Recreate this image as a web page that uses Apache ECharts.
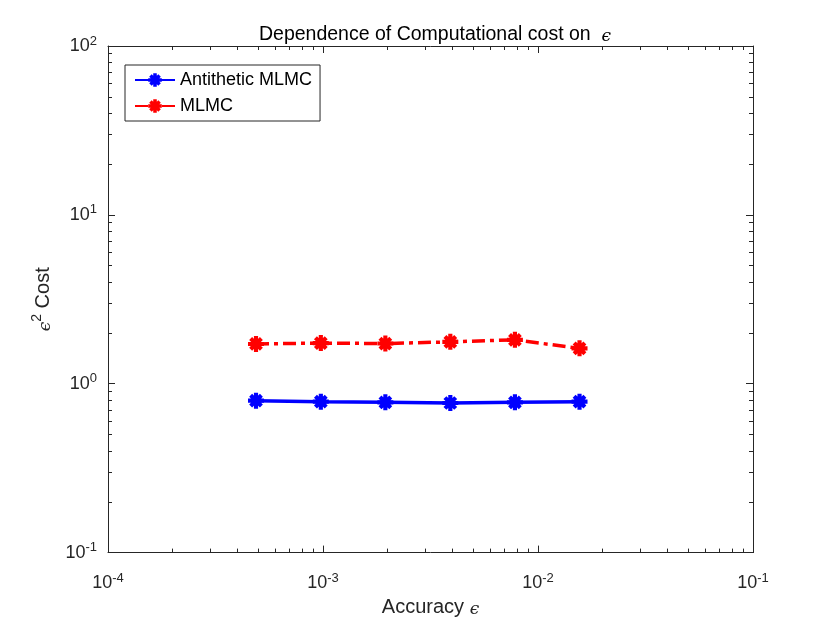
<!DOCTYPE html>
<html>
<head>
<meta charset="utf-8">
<script src="https://cdn.jsdelivr.net/npm/echarts@6/dist/echarts.min.js"></script>
<style>html,body{margin:0;padding:0;background:#fff}#c{width:830px;height:623px}</style>
</head>
<body>
<div id="c"></div>
<script>
// ---- data ----
const accuracy = [0.000488, 0.000977, 0.00195, 0.00391, 0.00781, 0.0156];
const antitheticCost = [0.794, 0.783, 0.776, 0.769, 0.776, 0.783];
const mlmcCost = [1.72, 1.74, 1.73, 1.77, 1.82, 1.62];
const xTicks = [1e-4, 1e-3, 1e-2, 1e-1];
const xTickExp = ['-4', '-3', '-2', '-1'];
const yTicks = [1e-1, 1, 10, 100];
const yTickExp = ['-1', '0', '1', '2'];
const seriesNames = ['Antithetic MLMC', 'MLMC'];

function minorTicks(majors) {
  const out = [];
  for (let i = 0; i < majors.length - 1; i++) {
    for (let k = 2; k <= 9; k++) out.push(+(majors[i] * k).toPrecision(6));
  }
  return out;
}
function expOf(v, ticks, exps) {
  for (let i = 0; i < ticks.length; i++) {
    if (Math.abs(Math.log10(v) - Math.log10(ticks[i])) < 1e-6) return exps[i];
  }
  return '';
}

const ink = '#262626';
const star = 'path://M0 7.4L20 7.4L20 12.6L0 12.6Z M7.4 0L12.6 0L12.6 20L7.4 20Z M5.12 1.44L18.56 14.88L14.88 18.56L1.44 5.12Z M1.44 14.88L14.88 1.44L18.56 5.12L5.12 18.56Z';
const font = 'Liberation Sans';

const labelRich = {
  b: { fontSize: 18, color: ink, fontFamily: font },
  s: { fontSize: 13, color: ink, fontFamily: font, padding: [0, 0, 10, 0] }
};

function xAxisDef(position, major, showLabel) {
  return {
    type: 'log', logBase: 10, min: 1e-4, max: 1e-1, position: position, offset: 0,
    axisLine: { show: major, onZero: false, lineStyle: { color: ink, width: 1 } },
    splitLine: { show: false },
    axisTick: { show: true, inside: true, length: major ? 7 : 4, lineStyle: { color: ink, width: 1 },
      customValues: major ? xTicks : minorTicks(xTicks) },
    axisLabel: { show: showLabel, customValues: xTicks, margin: 19,
      formatter: v => '{b|10}{s|' + expOf(v, xTicks, xTickExp) + '}', rich: labelRich },
    name: showLabel ? 'Accuracy {e|ϵ}' : '', nameLocation: 'middle', nameGap: 42,
    nameTextStyle: { fontSize: 20, color: ink, fontFamily: font,
      rich: { e: { fontSize: 17, color: ink, fontStyle: 'italic', fontFamily: 'DejaVu Serif', padding: [5, 0, 0, 0] } } }
  };
}
function yAxisDef(position, major, showLabel) {
  return {
    type: 'log', logBase: 10, min: 0.1, max: 100, position: position, offset: 0,
    axisLine: { show: major, onZero: false, lineStyle: { color: ink, width: 1 } },
    splitLine: { show: false },
    axisTick: { show: true, inside: true, length: major ? 7 : 4, lineStyle: { color: ink, width: 1 },
      customValues: major ? yTicks : minorTicks(yTicks) },
    axisLabel: { show: showLabel, customValues: yTicks, margin: 11,
      formatter: v => '{b|10}{s|' + expOf(v, yTicks, yTickExp) + '}', rich: labelRich },
    name: showLabel ? '{e|ϵ}{s|2}{n| Cost}' : '', nameLocation: 'middle', nameGap: 52, nameRotate: 90,
    nameTextStyle: { color: ink, fontFamily: font,
      rich: {
        e: { fontSize: 17, color: ink, fontStyle: 'italic', fontFamily: 'DejaVu Serif', padding: [5, 0, 0, 0] },
        s: { fontSize: 14, color: ink, fontFamily: font, padding: [0, 0, 12, 0] },
        n: { fontSize: 20, color: ink, fontFamily: font }
      } }
  };
}

const chart = echarts.init(document.getElementById('c'), null, { renderer: 'canvas' });
chart.setOption({
  backgroundColor: '#fff',
  animation: false,
  title: {
    text: 'Dependence of Computational cost on  {e|ϵ}',
    left: 430, top: 19, textAlign: 'center',
    textStyle: { fontSize: 19.5, fontWeight: 'normal', color: '#000', fontFamily: font,
      rich: { e: { fontSize: 17, color: '#000', fontStyle: 'italic', fontFamily: 'DejaVu Serif', padding: [4, 0, 0, 0] } } }
  },
  grid: { left: 108, right: 77, top: 46, bottom: 69, containLabel: false },
  legend: {
    orient: 'vertical', left: 125, top: 65, itemWidth: 40, itemHeight: 17, itemGap: 8,
    padding: [6, 8, 6, 9], backgroundColor: '#fff', borderColor: ink, borderWidth: 1,
    textStyle: { fontSize: 18, color: '#000', fontFamily: font },
    data: seriesNames
  },
  xAxis: [xAxisDef('bottom', true, true), xAxisDef('bottom', false, false), xAxisDef('top', true, false), xAxisDef('top', false, false)],
  yAxis: [yAxisDef('left', true, true), yAxisDef('left', false, false), yAxisDef('right', true, false), yAxisDef('right', false, false)],
  series: [
    {
      name: seriesNames[0], type: 'line', xAxisIndex: 0, yAxisIndex: 0,
      data: accuracy.map((x, i) => [x, antitheticCost[i]]),
      symbol: star, symbolSize: 16, showAllSymbol: true,
      itemStyle: { color: '#0000ff' },
      lineStyle: { color: '#0000ff', width: 3.5 }
    },
    {
      name: seriesNames[1], type: 'line', xAxisIndex: 0, yAxisIndex: 0,
      data: accuracy.map((x, i) => [x, mlmcCost[i]]),
      symbol: star, symbolSize: 16, showAllSymbol: true,
      itemStyle: { color: '#ff0000' },
      lineStyle: { color: '#ff0000', width: 3.5, type: [13, 5, 4, 5] }
    }
  ]
});
</script>
</body>
</html>
